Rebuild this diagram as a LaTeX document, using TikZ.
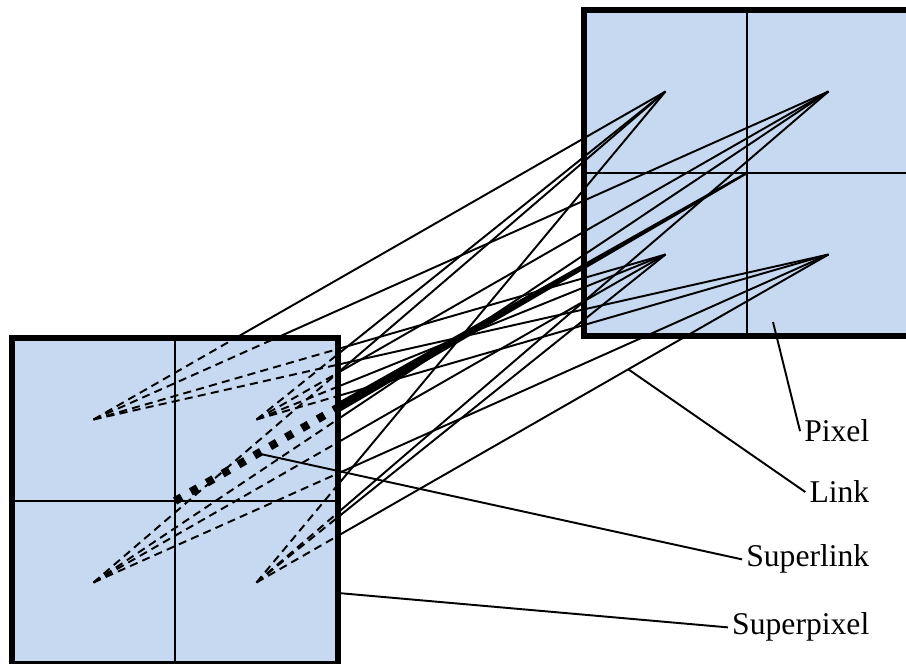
\documentclass[tikz,border=0pt]{standalone}
\usepackage{fontspec}
\setmainfont{Liberation Serif}
\usetikzlibrary{math}
\usetikzlibrary{calc}
\definecolor{pixelblue}{RGB}{198,217,241}
\tikzset{superpixel/.style={draw=black, line width=1.6pt, fill=pixelblue, minimum size=3.26cm, inner sep=0pt, outer sep=0pt},
	gridline/.style={line width=0.55pt},
	link/.style={line width=0.55pt},
	dashlink/.style={line width=0.55pt, dash pattern=on 2.3pt off 1.5pt},
	superdash/.style={line width=2.3pt, dash pattern=on 2.2pt off 3pt},
	tagtext/.style={font=\fontsize{9}{11}\selectfont, inner sep=1pt, anchor=base east},
	leader/.style={line width=0.55pt}}

\begin{document}
\begin{tikzpicture}
	\tikzmath{\s=3.26; \q=\s/4; \lcx=1.75; \lcy=1.63; \rcx=7.47; \rcy=4.91; \tx=8.735;}
	\useasboundingbox (0,0) rectangle (9.06,6.64);
	\clip (0,0) rectangle (9.06,6.64);
	\coordinate (lc) at (\lcx,\lcy);
	\coordinate (rc) at (\rcx,\rcy);
	% superpixel on the right, links drawn over it
	\node[superpixel] (R) at (rc) {};
	\draw[gridline] (R.north) -- (R.south);
	\draw[gridline] (R.west) -- (R.east);
	\foreach \n/\dx/\dy in {1/-1/1, 2/1/1, 3/-1/-1, 4/1/-1}{
		\coordinate (l-\n) at (\lcx+\dx*\q, \lcy+\dy*\q);
		\coordinate (r-\n) at (\rcx+\dx*\q, \rcy+\dy*\q);
	}
	\foreach \i in {1,...,4}
		\foreach \j in {1,...,4}
			\draw[link] (l-\i) -- (r-\j);
	\fill ($(lc)!0.06cm!90:(rc)$) -- ($(rc)!0.012cm!-90:(lc)$) -- ($(rc)!0.012cm!90:(lc)$) -- ($(lc)!0.06cm!-90:(rc)$) -- cycle;
	% superpixel on the left hides the solid part, dashed inside
	\node[superpixel] (L) at (lc) {};
	\draw[gridline] (L.north) -- (L.south);
	\draw[gridline] (L.west) -- (L.east);
	\begin{scope}
		\clip (L.south west) rectangle (L.north east);
		\foreach \i in {1,...,4}
			\foreach \j in {1,...,4}
				\draw[dashlink] (l-\i) -- (r-\j);
		\draw[superdash] (L.center) -- (R.center);
	\end{scope}
	% labels
	\node[tagtext] (pixel-tag) at (\tx,2.22) {Pixel};
	\node[tagtext] (link-tag) at (\tx,1.61) {Link};
	\node[tagtext] (superlink-tag) at (\tx,0.97) {Superlink};
	\node[tagtext] (superpixel-tag) at (\tx,0.29) {Superpixel};
	\coordinate (pixel-pt) at ($(R.center)+(0.26,-1.49)$);
	\coordinate (link-pt) at ($(l-4)!0.65!(r-4)$);
	\coordinate (superlink-pt) at ($(L.center)!0.145!(R.center)$);
	\coordinate (superpixel-pt) at ($(L.east)+(0,-0.92)$);
	\draw[leader] (pixel-pt) -- (pixel-tag.west);
	\draw[leader] (link-pt) -- (link-tag.west);
	\draw[leader] (superlink-pt) -- (superlink-tag.west);
	\draw[leader] (superpixel-pt) -- (superpixel-tag.west);
\end{tikzpicture}
\end{document}
